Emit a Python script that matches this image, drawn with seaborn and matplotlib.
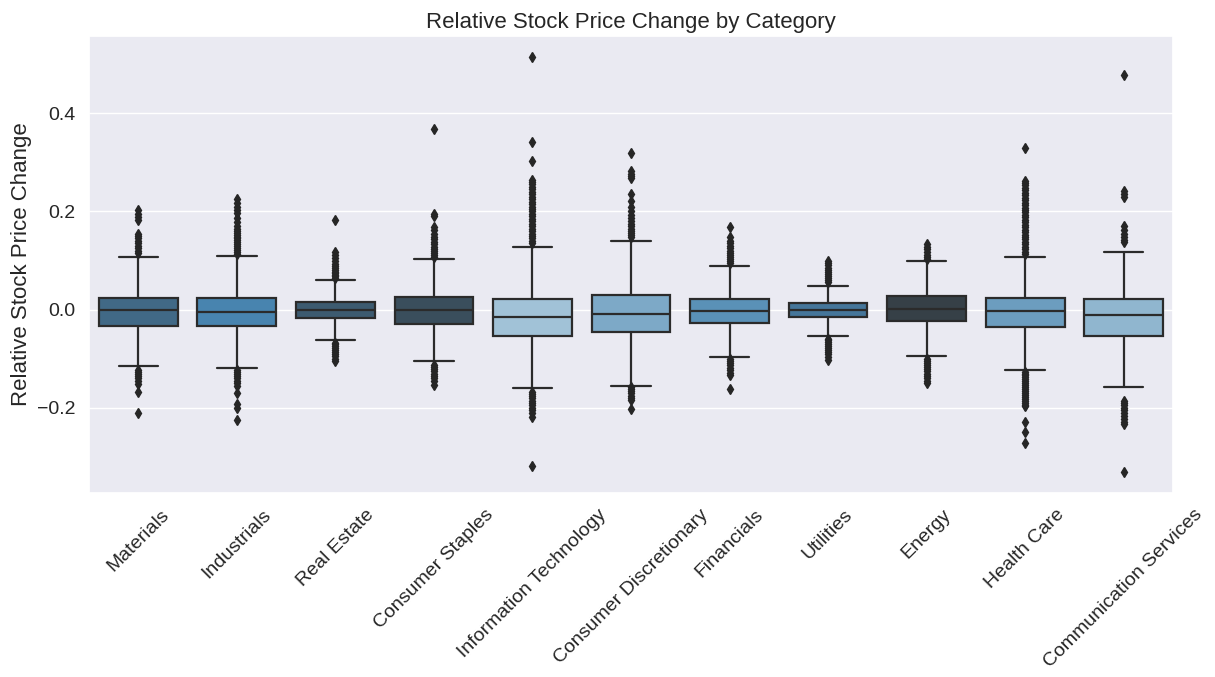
import numpy as np
import pandas as pd
import matplotlib
matplotlib.use("Agg")
import matplotlib.pyplot as plt
import seaborn as sns

categories = [
    "Materials", "Industrials", "Real Estate", "Consumer Staples",
    "Information Technology", "Consumer Discretionary", "Financials",
    "Utilities", "Energy", "Health Care", "Communication Services",
]

# box statistics
q1 = [-0.034, -0.034, -0.017, -0.029, -0.054, -0.045, -0.027, -0.015, -0.023, -0.036, -0.054]
median = [-0.001, -0.004, -0.001, -0.001, -0.015, -0.008, -0.002, -0.001, 0.002, -0.003, -0.011]
q3 = [0.024, 0.024, 0.015, 0.025, 0.021, 0.029, 0.021, 0.013, 0.027, 0.023, 0.021]
whisker_low = [-0.115, -0.119, -0.062, -0.105, -0.159, -0.155, -0.097, -0.054, -0.094, -0.122, -0.158]
whisker_high = [0.107, 0.110, 0.060, 0.104, 0.127, 0.139, 0.088, 0.048, 0.100, 0.108, 0.118]

outliers_high = [
    [0.115, 0.12, 0.125, 0.13, 0.135, 0.14, 0.145, 0.15, 0.155, 0.182, 0.188, 0.195, 0.202],
    [0.113, 0.117, 0.121, 0.125, 0.129, 0.133, 0.137, 0.141, 0.145, 0.149, 0.153, 0.157,
     0.161, 0.165, 0.17, 0.178, 0.186, 0.196, 0.203, 0.21, 0.218, 0.226],
    [0.065, 0.068, 0.071, 0.074, 0.077, 0.08, 0.084, 0.088, 0.093, 0.1, 0.105, 0.112, 0.118, 0.183],
    [0.108, 0.112, 0.116, 0.12, 0.124, 0.128, 0.133, 0.138, 0.143, 0.148, 0.155, 0.162,
     0.168, 0.19, 0.195, 0.368],
    [0.135, 0.14, 0.145, 0.15, 0.155, 0.16, 0.165, 0.17, 0.175, 0.18, 0.185, 0.19, 0.195,
     0.2, 0.205, 0.21, 0.215, 0.22, 0.225, 0.23, 0.235, 0.24, 0.245, 0.25, 0.255, 0.26,
     0.265, 0.303, 0.342, 0.515],
    [0.148, 0.152, 0.156, 0.16, 0.165, 0.17, 0.175, 0.18, 0.186, 0.192, 0.2, 0.21, 0.222,
     0.236, 0.268, 0.272, 0.277, 0.283, 0.319],
    [0.095, 0.099, 0.103, 0.107, 0.111, 0.115, 0.12, 0.125, 0.13, 0.135, 0.14, 0.148, 0.168],
    [0.057, 0.06, 0.064, 0.068, 0.072, 0.076, 0.08, 0.085, 0.09, 0.096, 0.1],
    [0.104, 0.108, 0.112, 0.118, 0.123, 0.128, 0.133],
    [0.113, 0.118, 0.123, 0.128, 0.133, 0.138, 0.143, 0.148, 0.153, 0.158, 0.163, 0.168,
     0.173, 0.178, 0.183, 0.188, 0.193, 0.198, 0.203, 0.208, 0.213, 0.218, 0.223, 0.228,
     0.233, 0.238, 0.243, 0.248, 0.253, 0.258, 0.263, 0.33],
    [0.138, 0.142, 0.148, 0.155, 0.163, 0.17, 0.23, 0.236, 0.242, 0.477],
]

outliers_low = [
    [-0.123, -0.127, -0.131, -0.135, -0.14, -0.145, -0.152, -0.167, -0.21],
    [-0.123, -0.127, -0.131, -0.135, -0.14, -0.145, -0.15, -0.155, -0.17, -0.193, -0.2, -0.224],
    [-0.067, -0.07, -0.074, -0.078, -0.082, -0.086, -0.09, -0.095, -0.1, -0.105],
    [-0.112, -0.116, -0.12, -0.125, -0.13, -0.135, -0.14, -0.146, -0.153],
    [-0.168, -0.172, -0.176, -0.18, -0.185, -0.19, -0.195, -0.2, -0.205, -0.21, -0.218, -0.319],
    [-0.158, -0.162, -0.166, -0.17, -0.175, -0.18, -0.184, -0.202],
    [-0.101, -0.105, -0.109, -0.113, -0.118, -0.123, -0.128, -0.133, -0.161],
    [-0.059, -0.062, -0.066, -0.07, -0.074, -0.078, -0.082, -0.086, -0.091, -0.097, -0.102],
    [-0.1, -0.104, -0.108, -0.112, -0.116, -0.12, -0.125, -0.13, -0.135, -0.14, -0.145, -0.15],
    [-0.126, -0.13, -0.134, -0.138, -0.142, -0.146, -0.15, -0.154, -0.158, -0.162, -0.166,
     -0.17, -0.174, -0.178, -0.182, -0.186, -0.19, -0.194, -0.197, -0.228, -0.25, -0.272],
    [-0.186, -0.19, -0.195, -0.2, -0.205, -0.21, -0.216, -0.222, -0.228, -0.233, -0.331],
]

# shade rank in Blues_d (0 = lightest) per category, as seen in the picture
shade_rank = [7, 5, 8, 9, 0, 2, 4, 6, 10, 3, 1]

# rebuild a long table whose quartiles/whiskers/fliers equal the values above:
# three equal blocks at q1, median, q3 pin the quartiles in place
BLOCK = 400
rows = []
for i, cat in enumerate(categories):
    vals = ([whisker_low[i], whisker_high[i]]
            + [q1[i]] * BLOCK + [median[i]] * BLOCK + [q3[i]] * BLOCK
            + outliers_low[i] + outliers_high[i])
    rows += [(cat, v) for v in vals]
df = pd.DataFrame(rows, columns=["Category", "Relative Stock Price Change"])

sns.set_theme(style="darkgrid")
plt.rcParams["font.family"] = ["Liberation Sans", "DejaVu Sans"]

blues = sns.color_palette("Blues_d", len(categories))
palette = {cat: blues[r] for cat, r in zip(categories, shade_rank)}

fig, ax = plt.subplots(figsize=(12.15, 6.77), dpi=100)
fig.subplots_adjust(left=0.0733, right=0.9654, top=0.9468, bottom=0.2718)

sns.boxplot(
    data=df, x="Category", y="Relative Stock Price Change",
    hue="Category", palette=palette, legend=False, ax=ax,
    linecolor="#2b2b2b", linewidth=1.6,
    flierprops=dict(marker="d", markersize=5.5, markerfacecolor="#262626",
                    markeredgecolor="#262626"),
)

ax.set_title("Relative Stock Price Change by Category", fontsize=16)
ax.set_xlabel("")
ax.set_ylabel("Relative Stock Price Change", fontsize=16)
ax.tick_params(axis="y", labelsize=14)
ax.tick_params(axis="x", labelsize=14, rotation=45)

fig.savefig("out.png", dpi=100)
